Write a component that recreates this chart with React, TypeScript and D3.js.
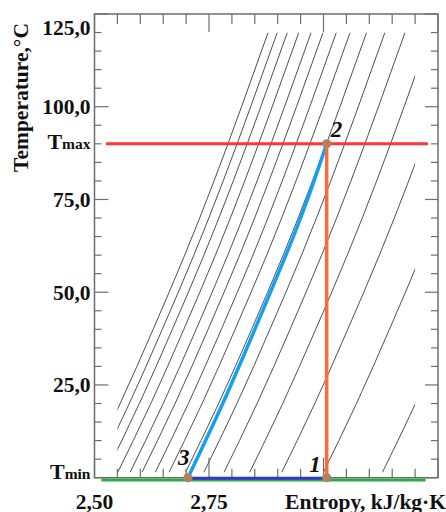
import * as d3 from "d3";

// axis values
const yMajor = [0, 25, 50, 75, 100, 125];
const yLabels = ["", "25,0", "50,0", "75,0", "100,0", "125,0"];
const xMajor = [2.5, 2.75, 3.0, 3.25];
const xLabels = ["2,50", "2,75", "", ""];

// isobar shape (s offset from its T=0 point)
const isoT = [0, 20, 40, 60, 80, 100, 120];
const isoDs = [0, 0.078, 0.15, 0.219, 0.283, 0.343, 0.401];
// s at T=0 for each isobar
const isoS0 = [2.478, 2.498, 2.52, 2.545, 2.572, 2.598, 2.627, 2.657, 2.693, 2.733, 2.777, 2.833, 2.903, 2.994, 3.123];

// cycle
const Tmin = 0;
const Tmax = 90;
const compS = [2.704, 2.78, 2.85, 2.918, 2.965, 3.007];
const compT = [0, 20, 40, 60, 75, 90];
const hotLineS = [2.525, 3.228];
const coldLineS = [2.515, 3.223];
const statePts = [
  { label: "1", s: 3.007, T: 0 },
  { label: "2", s: 3.007, T: 90 },
  { label: "3", s: 2.704, T: 0 },
];

const W = 446;
const H = 512;
const font = "'Liberation Serif', 'Times New Roman', serif";

const App = () => {
  const x = d3.scaleLinear().domain([2.5, 3.25]).range([94.5, 438]);
  const y = d3.scaleLinear().domain([0, 125]).range([477.7, 14]);

  const line = d3
    .line<[number, number]>()
    .x(d => x(d[0]))
    .y(d => y(d[1]))
    .curve(d3.curveNatural);

  const yMinor = d3.range(0, 126, 5);
  const xMinor = d3.range(0, 16).map(i => 2.5 + i * 0.05);

  const clipX0 = x(2.55);
  const clipX1 = x(3.2);
  const clipY0 = y(120);
  const clipY1 = y(1.5);

  const labelOff: Record<string, [number, number, string]> = {
    "1": [-6, -6, "end"],
    "2": [4, -7, "start"],
    "3": [-10, -13, "start"],
  };

  const tickCol = "#6e6e6e";

  return (
    <svg width={W} height={H} style={{ position: "absolute", left: 0, top: 0, background: "#fff" }}>
      <defs>
        <clipPath id="isoClip">
          <rect x={clipX0} y={clipY0} width={clipX1 - clipX0} height={clipY1 - clipY0} />
        </clipPath>
      </defs>

      {/* isobars */}
      <g clipPath="url(#isoClip)">
        {isoS0.map((s0, i) => (
          <path
            key={i}
            d={line(isoT.map((t, j) => [s0 + isoDs[j], t]) as [number, number][]) || ""}
            fill="none"
            stroke="#222"
            strokeWidth={0.8}
          />
        ))}
      </g>

      {/* frame */}
      <rect
        x={x(2.5)}
        y={y(125)}
        width={x(3.25) - x(2.5)}
        height={y(0) - y(125)}
        fill="none"
        stroke={tickCol}
        strokeWidth={1.5}
      />

      {/* y ticks, both sides */}
      {yMinor.map(v => {
        const major = v % 25 === 0;
        return (
          <g key={"y" + v} stroke={tickCol} strokeWidth={1.2}>
            <line x1={x(2.5)} x2={x(2.5) + (major ? 14 : 7)} y1={y(v)} y2={y(v)} />
            <line x1={x(3.25)} x2={x(3.25) - (major ? 13 : 7)} y1={y(v)} y2={y(v)} />
          </g>
        );
      })}
      {/* x ticks, top and bottom */}
      {xMinor.map((v, i) => {
        const major = i % 5 === 0;
        return (
          <g key={"x" + i} stroke={tickCol} strokeWidth={1.2}>
            <line x1={x(v)} x2={x(v)} y1={y(125)} y2={y(125) + (major ? 18 : 10)} />
            <line x1={x(v)} x2={x(v)} y1={y(0)} y2={y(0) - (major ? 20 : 9)} />
          </g>
        );
      })}

      {/* process lines */}
      <line
        x1={x(hotLineS[0])}
        x2={x(hotLineS[1])}
        y1={y(Tmax)}
        y2={y(Tmax)}
        stroke="#ff3434"
        strokeWidth={3}
      />
      <line
        x1={x(coldLineS[0])}
        x2={x(coldLineS[1])}
        y1={y(Tmin) + 2.3}
        y2={y(Tmin) + 2.3}
        stroke="#2eaa4a"
        strokeWidth={3}
      />
      <line
        x1={x(statePts[2].s)}
        x2={x(statePts[0].s)}
        y1={y(Tmin) + 0.6}
        y2={y(Tmin) + 0.6}
        stroke="#3535c8"
        strokeWidth={3}
      />
      <path
        d={line(compS.map((s, i) => [s, compT[i]]) as [number, number][]) || ""}
        fill="none"
        stroke="#12a0f4"
        strokeWidth={3.5}
      />
      <line
        x1={x(statePts[0].s)}
        x2={x(statePts[1].s)}
        y1={y(statePts[0].T)}
        y2={y(statePts[1].T)}
        stroke="#ff6a3a"
        strokeWidth={3.5}
      />

      {/* state points */}
      {statePts.map(p => {
        const [dx, dy, anchor] = labelOff[p.label];
        return (
          <g key={p.label}>
            <circle cx={x(p.s)} cy={y(p.T)} r={4.6} fill="#b2805a" />
            <text
              x={x(p.s) + dx}
              y={y(p.T) + dy}
              textAnchor={anchor}
              fontFamily={font}
              fontStyle="italic"
              fontWeight="bold"
              fontSize={23}
              fill="#111"
            >
              {p.label}
            </text>
          </g>
        );
      })}

      {/* y labels */}
      {yMajor.map((v, i) =>
        yLabels[i] ? (
          <text
            key={"yl" + v}
            x={90.5}
            y={Math.max(y(v), 27)}
            dy="0.35em"
            textAnchor="end"
            fontFamily={font}
            fontWeight="bold"
            fontSize={21.5}
            fill="#111"
          >
            {yLabels[i]}
          </text>
        ) : null
      )}
      <text x={90.5} y={y(Tmax) + 5} textAnchor="end" fontFamily={font} fontWeight="bold" fill="#111">
        <tspan fontSize={22}>T</tspan>
        <tspan fontSize={15.5}>max</tspan>
      </text>
      <text x={90.5} y={y(Tmin) + 1.5} textAnchor="end" fontFamily={font} fontWeight="bold" fill="#111">
        <tspan fontSize={22}>T</tspan>
        <tspan fontSize={15.5}>min</tspan>
      </text>

      {/* x labels */}
      {xMajor.map((v, i) =>
        xLabels[i] ? (
          <text
            key={"xl" + i}
            x={x(v)}
            y={508.5}
            textAnchor="middle"
            fontFamily={font}
            fontWeight="bold"
            fontSize={21.5}
            fill="#111"
          >
            {xLabels[i]}
          </text>
        ) : null
      )}

      {/* axis titles */}
      <text
        x={446}
        y={508.5}
        textAnchor="end"
        fontFamily={font}
        fontWeight="bold"
        fontSize={21.5}
        fill="#111"
      >
        Entropy, kJ/kg·K
      </text>
      <text
        transform="translate(28,23) rotate(-90)"
        textAnchor="end"
        fontFamily={font}
        fontWeight="bold"
        fontSize={21.5}
        fill="#111"
      >
        Temperature,°C
      </text>
    </svg>
  );
};

export default App;
